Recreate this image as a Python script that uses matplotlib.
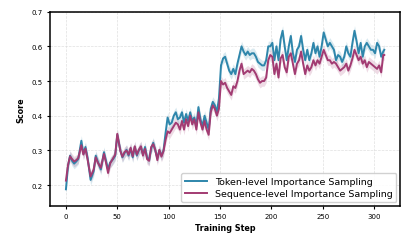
import matplotlib
matplotlib.use("Agg")
import matplotlib.pyplot as plt
import numpy as np

steps = [0, 2, 4, 6, 8, 10, 12, 15, 17, 19, 21, 24, 27, 29, 31, 34, 37, 39, 41, 43,
         46, 48, 50, 53, 55, 57, 59, 61, 63, 65, 67, 69, 71, 73, 75, 77, 79, 81, 83, 85,
         87, 89, 91, 93, 95, 97, 99, 101, 103, 105, 107, 109, 111, 113, 115, 117, 119, 121, 123, 125,
         127, 129, 131, 133, 135, 137, 139, 141, 143, 145, 147, 149, 151, 153, 155, 157, 159, 161, 163, 165,
         167, 169, 171, 173, 175, 177, 179, 181, 183, 185, 187, 189, 191, 193, 195, 197, 199, 201, 203, 205,
         207, 209, 211, 213, 215, 217, 219, 221, 223, 225, 227, 229, 231, 233, 235, 237, 239, 241, 243, 245,
         247, 249, 251, 253, 255, 257, 259, 261, 263, 265, 267, 269, 271, 273, 275, 277, 279, 281, 283, 285,
         287, 289, 291, 293, 295, 297, 299, 301, 303, 305, 307, 309, 310]

token = [0.188, 0.255, 0.285, 0.270, 0.262, 0.268, 0.275, 0.328, 0.290, 0.310, 0.280, 0.215,
         0.240, 0.285, 0.268, 0.245, 0.295, 0.270, 0.245, 0.265, 0.275, 0.285, 0.345, 0.300,
         0.280, 0.292, 0.302, 0.285, 0.305, 0.280, 0.310, 0.285, 0.300, 0.310, 0.288, 0.310,
         0.280, 0.272, 0.305, 0.322, 0.300, 0.278, 0.300, 0.285, 0.300, 0.350, 0.395, 0.375,
         0.380, 0.400, 0.410, 0.390, 0.395, 0.410, 0.380, 0.405, 0.385, 0.410, 0.385, 0.395,
         0.370, 0.425, 0.390, 0.370, 0.400, 0.380, 0.360, 0.420, 0.440, 0.430, 0.410, 0.450,
         0.545, 0.565, 0.570, 0.550, 0.530, 0.520, 0.535, 0.520, 0.550, 0.575, 0.600, 0.585,
         0.575, 0.585, 0.575, 0.580, 0.580, 0.570, 0.555, 0.550, 0.545, 0.545, 0.560, 0.600,
         0.600, 0.610, 0.560, 0.600, 0.560, 0.620, 0.645, 0.600, 0.560, 0.600, 0.630, 0.580,
         0.555, 0.590, 0.600, 0.630, 0.590, 0.560, 0.590, 0.560, 0.580, 0.610, 0.580, 0.600,
         0.570, 0.600, 0.640, 0.620, 0.600, 0.610, 0.600, 0.590, 0.560, 0.575, 0.570, 0.555,
         0.570, 0.600, 0.580, 0.570, 0.610, 0.645, 0.615, 0.580, 0.610, 0.570, 0.600, 0.610,
         0.600, 0.590, 0.590, 0.580, 0.610, 0.600, 0.570, 0.585, 0.590]

sequence = [0.213, 0.258, 0.283, 0.275, 0.268, 0.272, 0.278, 0.315, 0.288, 0.305, 0.275, 0.225,
            0.245, 0.280, 0.265, 0.250, 0.290, 0.265, 0.235, 0.262, 0.278, 0.288, 0.348, 0.298,
            0.282, 0.295, 0.300, 0.288, 0.308, 0.283, 0.312, 0.288, 0.302, 0.312, 0.285, 0.305,
            0.275, 0.270, 0.310, 0.318, 0.302, 0.272, 0.302, 0.282, 0.298, 0.330, 0.355, 0.350,
            0.360, 0.370, 0.380, 0.375, 0.360, 0.385, 0.360, 0.390, 0.370, 0.400, 0.375, 0.390,
            0.360, 0.410, 0.380, 0.360, 0.385, 0.360, 0.345, 0.410, 0.430, 0.420, 0.400, 0.420,
            0.500, 0.490, 0.495, 0.480, 0.470, 0.460, 0.485, 0.480, 0.500, 0.530, 0.550, 0.520,
            0.525, 0.530, 0.525, 0.535, 0.530, 0.520, 0.505, 0.495, 0.500, 0.500, 0.510, 0.560,
            0.575, 0.570, 0.520, 0.550, 0.510, 0.565, 0.575, 0.540, 0.525, 0.570, 0.580, 0.550,
            0.520, 0.550, 0.560, 0.585, 0.550, 0.520, 0.545, 0.530, 0.540, 0.560, 0.545, 0.560,
            0.550, 0.570, 0.590, 0.575, 0.560, 0.560, 0.550, 0.555, 0.550, 0.540, 0.530, 0.535,
            0.540, 0.550, 0.530, 0.545, 0.565, 0.590, 0.575, 0.560, 0.570, 0.550, 0.560, 0.540,
            0.555, 0.550, 0.545, 0.540, 0.535, 0.545, 0.525, 0.575, 0.575]

token_spread = 0.015
sequence_spread = 0.015

series_labels = ["Token-level Importance Sampling", "Sequence-level Importance Sampling"]
colors = ["#2E86AB", "#A23B72"]
x_ticks = [0, 50, 100, 150, 200, 250, 300]
y_ticks = [0.2, 0.3, 0.4, 0.5, 0.6, 0.7]

fig = plt.figure(figsize=(4.11, 2.53), dpi=100)
ax = fig.add_axes([0.1217, 0.182, 0.852, 0.768])

x = np.array(steps)
for vals, spread, lab, c in [(token, token_spread, series_labels[0], colors[0]),
                             (sequence, sequence_spread, series_labels[1], colors[1])]:
    v = np.array(vals)
    ax.fill_between(x, v - spread, v + spread, color=c, alpha=0.18, linewidth=0)
    ax.plot(x, v, color=c, linewidth=1.4, label=lab, solid_joinstyle="round")

ax.set_xlim(-15.5, 325.5)
ax.set_ylim(0.14, 0.7)
ax.set_xticks(x_ticks)
ax.set_yticks(y_ticks)
ax.set_yticklabels([f"{t:.1f}" for t in y_ticks])
ax.tick_params(labelsize=5, length=2.5, width=0.8, pad=2.5)
ax.grid(True, linestyle="--", color="#d8d8d8", linewidth=0.5, alpha=0.8)
for s in ax.spines.values():
    s.set_linewidth(1.1)
    s.set_color("black")
ax.set_xlabel("Training Step", fontsize=5.8, fontweight="bold", labelpad=3)
ax.set_ylabel("Score", fontsize=5.8, fontweight="bold", labelpad=5)
ax.legend(loc="lower right", fontsize=6.8, frameon=True, framealpha=0.9,
          edgecolor="#cccccc", fancybox=True, handlelength=2.4, borderpad=0.4,
          labelspacing=0.35, borderaxespad=0.4)

fig.savefig("out.png", dpi=100)
